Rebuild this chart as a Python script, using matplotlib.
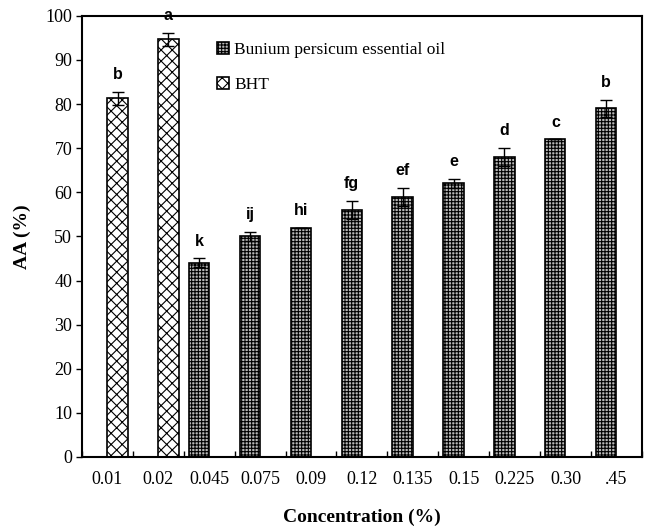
import matplotlib
matplotlib.use("Agg")
import matplotlib.pyplot as plt
import numpy as np

categories = ["0.01", "0.02", "0.045", "0.075", "0.09", "0.12", "0.135", "0.15", "0.225", "0.30", ".45"]
bht_idx = [0, 1]
bht_vals = [81.3, 94.7]
bht_err = [1.5, 1.5]
oil_idx = [2, 3, 4, 5, 6, 7, 8, 9, 10]
oil_vals = [44, 50, 52, 56, 59, 62, 68, 72, 79]
oil_err = [1.0, 1.0, 0.0, 2.0, 2.0, 1.0, 2.0, 0.0, 2.0]
letters = ["b", "a", "k", "ij", "hi", "fg", "ef", "e", "d", "c", "b"]

plt.rcParams['hatch.linewidth'] = 0.8
fig = plt.figure(figsize=(6.48, 5.28), dpi=100)
ax = fig.add_axes([0.1265, 0.1345, 0.864, 0.8355])

w = 0.4
oil_x = np.array(oil_idx) - w / 2
bht_x = np.array(bht_idx) + w / 2

b1 = ax.bar(oil_x, oil_vals, width=w, facecolor="#b8b8b8", edgecolor="black",
            hatch="+++++", linewidth=1.2, label="Bunium persicum essential oil")
b2 = ax.bar(bht_x, bht_vals, width=w, facecolor="white", edgecolor="black",
            hatch="xxx", linewidth=1.2, label="BHT")
ax.errorbar(oil_x, oil_vals, yerr=oil_err, fmt="none", ecolor="black", elinewidth=1, capsize=4, capthick=1)
ax.errorbar(bht_x, bht_vals, yerr=bht_err, fmt="none", ecolor="black", elinewidth=1, capsize=4, capthick=1)

xs = list(bht_x) + list(oil_x)
tops = [v + e for v, e in zip(bht_vals, bht_err)] + [v + e for v, e in zip(oil_vals, oil_err)]
for x, t, lab in zip(xs, tops, letters):
    ax.text(x, t + 2.2, lab, ha="center", va="bottom", fontsize=11.5, fontweight="bold",
            family="Liberation Sans")

ax.set_xlim(-0.5, len(categories) - 0.5)
ax.set_ylim(0, 100)
ax.set_yticks(np.arange(0, 101, 10))
ax.set_xticks(np.arange(len(categories)))
ax.set_xticklabels(categories)
ax.set_xticks(np.arange(len(categories) + 1) - 0.5, minor=True)
ax.tick_params(axis="x", which="major", length=0, pad=10)
ax.tick_params(axis="x", which="minor", direction="in", length=4, width=1)
ax.tick_params(axis="y", direction="out", length=4, width=1, pad=3)
for lab in ax.get_xticklabels() + ax.get_yticklabels():
    lab.set_family("Liberation Serif")
    lab.set_fontsize(13)
for s in ax.spines.values():
    s.set_linewidth(1.5)

ax.set_xlabel("Concentration (%)", family="Liberation Serif", fontweight="bold", fontsize=14, labelpad=15)
ax.set_ylabel("AA (%)", family="Liberation Serif", fontweight="bold", fontsize=14, labelpad=10)

leg = ax.legend(loc="upper left", bbox_to_anchor=(0.213, 0.977), frameon=False,
                handlelength=0.7, handleheight=0.7, handletextpad=0.3, labelspacing=1.1,
                prop={"family": "Liberation Serif", "size": 12.5})

fig.savefig("out.png", dpi=100)
